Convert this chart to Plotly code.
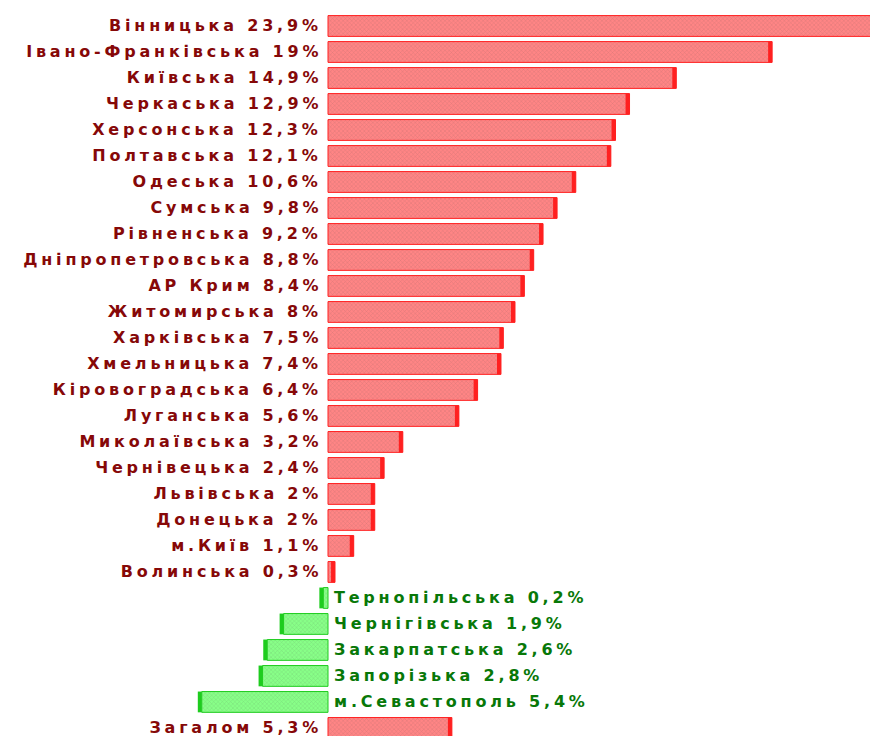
import plotly.graph_objects as go

REGIONS = [
    "Вінницька", "Івано-Франківська", "Київська", "Черкаська", "Херсонська",
    "Полтавська", "Одеська", "Сумська", "Рівненська", "Дніпропетровська",
    "АР Крим", "Житомирська", "Харківська", "Хмельницька", "Кіровоградська",
    "Луганська", "Миколаївська", "Чернівецька", "Львівська", "Донецька",
    "м.Київ", "Волинська", "Тернопільська", "Чернігівська", "Закарпатська",
    "Запорізька", "м.Севастополь", "Загалом",
]
VALUES = [
    23.9, 19, 14.9, 12.9, 12.3, 12.1, 10.6, 9.8, 9.2, 8.8, 8.4, 8, 7.5, 7.4,
    6.4, 5.6, 3.2, 2.4, 2, 2, 1.1, 0.3, -0.2, -1.9, -2.6, -2.8, -5.4, 5.3,
]

RED_FILL = "#FF8585"
RED_EDGE = "#FF2020"
GREEN_FILL = "#88FF88"
GREEN_EDGE = "#1ECC1E"
RED_TEXT = "#860808"
GREEN_TEXT = "#087808"
FONT = "DejaVu Sans, Verdana, sans-serif"

CAP = 0.17  # ширина темного торця бару


def fmt(name, v):
    num = f"{abs(v):g}".replace(".", ",")
    return f"{name} {num}%"


fills = [RED_FILL if v >= 0 else GREEN_FILL for v in VALUES]
edges = [RED_EDGE if v >= 0 else GREEN_EDGE for v in VALUES]

fig = go.Figure()
fig.add_trace(go.Bar(
    x=VALUES, y=REGIONS, orientation="h",
    width=0.8,
    marker=dict(
        color=fills,
        line=dict(color=edges, width=1),
        pattern=dict(shape="x", size=3, solidity=0.25, fgcolor=edges, fgopacity=0.22),
    ),
    hoverinfo="skip",
))
# темний торець на кінці бару
fig.add_trace(go.Bar(
    x=[CAP if v >= 0 else -CAP for v in VALUES],
    base=[v - CAP if v >= 0 else v for v in VALUES],
    y=REGIONS, orientation="h",
    width=0.8,
    marker=dict(color=edges, line=dict(width=0)),
    hoverinfo="skip",
))

for name, v in zip(REGIONS, VALUES):
    pos = v >= 0
    fig.add_annotation(
        x=0, y=name, text=fmt(name, v), showarrow=False,
        xanchor="right" if pos else "left",
        align="right" if pos else "left",
        xshift=-4 if pos else 4,
        font=dict(family=FONT, size=16, weight="bold",
                  color=RED_TEXT if pos else GREEN_TEXT),
    )

# сторінка має відступ 8px, тому фігура трохи менша за вікно
fig.update_layout(
    width=870, height=728,
    margin=dict(l=0, r=0, t=0, b=0),
    paper_bgcolor="white", plot_bgcolor="white",
    barmode="overlay",
    showlegend=False,
    xaxis=dict(range=[-13.69, 23.53], visible=False, fixedrange=True),
    yaxis=dict(range=[27.31, -0.692], visible=False, fixedrange=True),
)

# розріджений шрифт як в оригіналі
SPACING_JS = """
var gd = document.getElementById('{plot_id}');
function spread() {
  gd.querySelectorAll('.annotation-text').forEach(function (t) {
    t.style.letterSpacing = '3.8px';
  });
}
spread();
gd.on('plotly_afterplot', spread);
"""

fig.write_html("out.html", post_script=SPACING_JS)
